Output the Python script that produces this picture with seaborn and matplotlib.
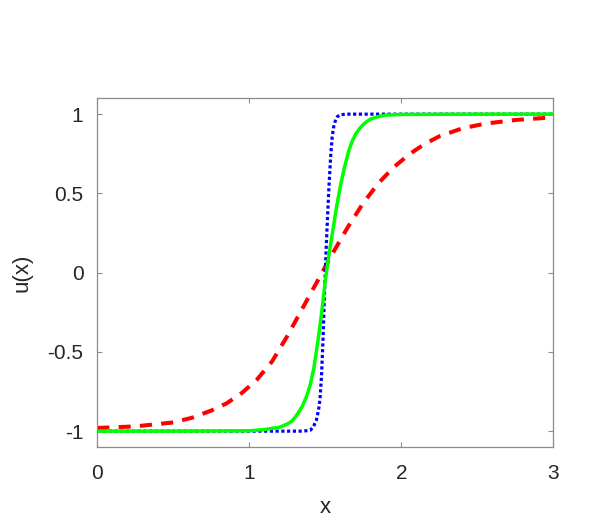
import numpy as np
import pandas as pd
import matplotlib
matplotlib.use('Agg')
import matplotlib.pyplot as plt
import seaborn as sns

# values
x_red = [0.0, 0.25, 0.5, 0.625, 0.75, 0.85, 0.95, 1.05, 1.15, 1.25, 1.35, 1.45,
         1.55, 1.65, 1.75, 1.85, 1.95, 2.05, 2.15, 2.25, 2.4, 2.55, 2.75, 3.0]
u_red = [-0.98, -0.97, -0.945, -0.915, -0.87, -0.825, -0.76, -0.675, -0.56,
         -0.40, -0.225, -0.05, 0.125, 0.29, 0.44, 0.565, 0.665, 0.745, 0.81,
         0.86, 0.91, 0.94, 0.963, 0.98]

x_green = [0.0, 0.5, 1.0, 1.1, 1.2, 1.25, 1.275, 1.3, 1.325, 1.35, 1.375, 1.4,
           1.425, 1.45, 1.475, 1.5, 1.525, 1.55, 1.575, 1.6, 1.625, 1.65,
           1.675, 1.7, 1.725, 1.75, 1.775, 1.8, 1.85, 1.9, 2.0, 2.5, 3.0]
u_green = [-1.0, -1.0, -0.998, -0.99, -0.975, -0.955, -0.94, -0.915, -0.88,
           -0.84, -0.785, -0.71, -0.6, -0.44, -0.26, -0.05, 0.12, 0.27, 0.42,
           0.55, 0.66, 0.755, 0.825, 0.875, 0.908, 0.935, 0.955, 0.97, 0.985,
           0.994, 0.998, 1.0, 1.0]

x_blue = [0.0, 1.0, 1.35, 1.4, 1.42, 1.44, 1.455, 1.465, 1.475, 1.485, 1.495,
          1.5, 1.505, 1.515, 1.525, 1.535, 1.545, 1.555, 1.565, 1.58, 1.6,
          1.65, 2.0, 3.0]
u_blue = [-1.0, -1.0, -1.0, -0.995, -0.975, -0.935, -0.87, -0.8, -0.65, -0.42,
          -0.12, 0.0, 0.14, 0.36, 0.56, 0.73, 0.855, 0.92, 0.955, 0.985, 0.997,
          1.0, 1.0, 1.0]

xticks = [0, 1, 2, 3]
xtick_labels = ['0', '1', '2', '3']
yticks = [-1, -0.5, 0, 0.5, 1]
ytick_labels = ['-1', '-0.5', '0', '0.5', '1']

sns.set_theme(style='white')
plt.rcParams['font.family'] = ['Liberation Sans', 'DejaVu Sans']
plt.rcParams['axes.unicode_minus'] = False

fig = plt.figure(figsize=(5.98, 5.31), dpi=100)
ax = fig.add_axes([0.1627, 0.1582, 0.7626, 0.6567])

sns.lineplot(x=x_red, y=u_red, ax=ax, color='#ff0000', linewidth=2.9,
             linestyle=(0, (3.0, 2.3)), sort=False)
sns.lineplot(x=x_blue, y=u_blue, ax=ax, color='#0000ff', linewidth=2.3,
             linestyle=(0, (1.0, 0.8)), sort=False)
sns.lineplot(x=x_green, y=u_green, ax=ax, color='#00ff00', linewidth=2.5,
             sort=False)

ax.set_xlim(0, 3)
ax.set_ylim(-1.1, 1.1)
ax.set_xticks(xticks)
ax.set_xticklabels(xtick_labels)
ax.set_yticks(yticks)
ax.set_yticklabels(ytick_labels)

for s in ax.spines.values():
    s.set_color('#8c8c8c')
    s.set_linewidth(0.9)
    s.set_visible(True)
ax.tick_params(direction='in', length=3.6, width=0.8, color='#8c8c8c',
               labelsize=15, labelcolor='#262626', top=True, right=True,
               bottom=True, left=True)
ax.tick_params(axis='x', pad=12)
ax.tick_params(axis='y', pad=10)
ax.set_xlabel('x', fontsize=16, color='#262626', labelpad=10)
ax.set_ylabel('u(x)', fontsize=16, color='#262626', labelpad=11)

plt.savefig('out.png', dpi=100)
